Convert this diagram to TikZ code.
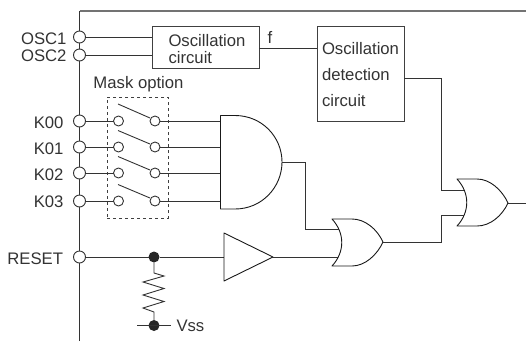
\documentclass[tikz,border=0pt]{standalone}
\usepackage{fontspec}
\setmainfont{Liberation Sans}
\begin{document}
\begin{tikzpicture}[
    x=1pt, y=-1pt,
    every node/.style={font=\fontsize{16.7}{16.7}\selectfont, text=black!80, inner sep=0pt, outer sep=0pt},
    wire/.style={draw, black!80, line width=0.9pt},
    heavy wire/.style={draw, black!55, line width=2pt},
    pin/.style={circle, draw=black!80, fill=white, line width=0.9pt, minimum size=12pt},
    contact/.style={circle, draw=black!80, fill=white, line width=0.9pt, minimum size=10pt},
    junction/.style={circle, fill=black!85, minimum size=11pt},
    block/.style={rectangle, draw=black!75, line width=0.9pt},
    mask box/.style={rectangle, draw=black!75, dashed, line width=0.9pt, minimum width=61pt, minimum height=121pt},
    gate/.style={draw, black!90, fill=white, line width=0.9pt, line join=round},
    ]
\useasboundingbox (0,0) rectangle (526,341);
% outer package edge
\coordinate (busTop) at (79.5,11);
\coordinate (busBot) at (79.5,341);
\coordinate (edgeEnd) at (526,11);
\draw[wire] (busBot) -- (busTop);
\draw[heavy wire] (busTop) -- (edgeEnd);
\node[mask box] (maskBox) at (137.5,157.5) {};
\node (maskLabel) at (138.5,84.5) {Mask option};
% pins
\node[pin] (osc1) at (79.5,37) {};
\node[pin] (osc2) at (79.5,55) {};
\node[pin] (k00) at (79.5,121) {};
\node[pin] (k01) at (79.5,147) {};
\node[pin] (k02) at (79.5,173) {};
\node[pin] (k03) at (79.5,201) {};
\node[pin] (reset) at (79.5,257) {};
\node[anchor=east] (osc1Label) at (66.5,39) {OSC1};
\node[anchor=east] (osc2Label) at (66.5,55.5) {OSC2};
\node[anchor=east] (k00Label) at (63.5,123) {K00};
\node[anchor=east] (k01Label) at (63.5,149) {K01};
\node[anchor=east] (k02Label) at (63.5,175) {K02};
\node[anchor=east] (k03Label) at (63.5,201.5) {K03};
\node[anchor=east] (resetLabel) at (63,259) {RESET};
% oscillation blocks
\node[block, minimum width=107pt, minimum height=42pt] (oscCircuit) at (205.5,47) {};
\node[anchor=west, align=left] (oscText) at (168.5,49) {Oscillation\\circuit};
\node[block, minimum width=87pt, minimum height=95pt] (oscDetect) at (360.5,73.5) {};
\node[anchor=west, align=left, font=\fontsize{16.7}{26}\selectfont] (detText) at (322,74.5) {Oscillation\\detection\\circuit};
\node (fLabel) at (270,37) {f};
\coordinate (oscIn1) at (152,37);
\coordinate (oscIn2) at (152,55);
\coordinate (oscOut) at (259,48);
\coordinate (detIn) at (317,48);
\coordinate (detOut) at (404,78);
\draw[wire] (osc1) -- (oscIn1);
\draw[wire] (osc2) -- (oscIn2);
\draw[wire] (oscOut) -- (detIn);
% mask option switches
\node[contact] (sw0a) at (118.5,121) {};
\node[contact] (sw0b) at (155,121) {};
\node[contact] (sw1a) at (118.5,147) {};
\node[contact] (sw1b) at (155,147) {};
\node[contact] (sw2a) at (118.5,173) {};
\node[contact] (sw2b) at (155,173) {};
\node[contact] (sw3a) at (118.5,201) {};
\node[contact] (sw3b) at (155,201) {};
\coordinate (lev0a) at (118,104);
\coordinate (lev0b) at (150,118);
\coordinate (lev1a) at (118,130.5);
\coordinate (lev1b) at (150,144);
\coordinate (lev2a) at (118,156.5);
\coordinate (lev2b) at (150,170);
\coordinate (lev3a) at (118,184.5);
\coordinate (lev3b) at (150,198);
\draw[wire] (lev0a) -- (lev0b);
\draw[wire] (lev1a) -- (lev1b);
\draw[wire] (lev2a) -- (lev2b);
\draw[wire] (lev3a) -- (lev3b);
\draw[wire] (k00) -- (sw0a);
\draw[wire] (k01) -- (sw1a);
\draw[wire] (k02) -- (sw2a);
\draw[wire] (k03) -- (sw3a);
% and gate
\coordinate (andIn0) at (220.5,121);
\coordinate (andIn1) at (220.5,147);
\coordinate (andIn2) at (220.5,173);
\coordinate (andIn3) at (220.5,201);
\coordinate (andOut) at (282,162);
\draw[wire] (sw0b) -- (andIn0);
\draw[wire] (sw1b) -- (andIn1);
\draw[wire] (sw2b) -- (andIn2);
\draw[wire] (sw3b) -- (andIn3);
\draw[gate] (220.5,115.5) -- (235,115.5) .. controls (262,115.5) and (282,137) .. (andOut)
    .. controls (282,187) and (262,209) .. (235,209) -- (220.5,209) -- cycle;
% reset path
\node[junction] (resetDot) at (154,257) {};
\coordinate (bufIn) at (224,257);
\coordinate (bufOut) at (273,257);
\coordinate (or1In1) at (341,229);
\coordinate (or1In2) at (341,257);
\coordinate (or1Out) at (383,242);
\draw[wire] (reset) -- (resetDot);
\draw[wire] (resetDot) -- (bufIn);
\draw[wire] (bufOut) -- (or1In2);
\draw[wire] (andOut) -| (305,229) -- (or1In1);
\draw[gate] (224,233) -- (bufOut) -- (224,281) -- cycle;
% or gates
\draw[gate] (332,219) -- (352,219) .. controls (365,219) and (377,229) .. (or1Out)
    .. controls (377,255) and (365,266) .. (352,266) -- (332,266)
    .. controls (345,252) and (345,233) .. (332,219) -- cycle;
\coordinate (or2In1) at (466,190);
\coordinate (or2In2) at (466,215);
\coordinate (or2Out) at (508,203);
\coordinate (outEnd) at (526,203);
\draw[wire] (detOut) -| (441,190) -- (or2In1);
\draw[wire] (or1Out) -| (441,215) -- (or2In2);
\draw[wire] (or2Out) -- (outEnd);
\draw[gate] (457,179) -- (477,179) .. controls (490,179) and (502,190) .. (or2Out)
    .. controls (502,216) and (490,226) .. (477,226) -- (457,226)
    .. controls (470,212) and (470,193) .. (457,179) -- cycle;
% pull-down
\node[junction] (vssDot) at (154,325.5) {};
\coordinate (vssLeft) at (137,325.5);
\coordinate (vssRight) at (171,325.5);
\node[anchor=west] (vssLabel) at (176.5,326) {Vss};
\draw[wire] (vssLeft) -- (vssRight);
\draw[wire, line join=miter] (resetDot) -- (154,273) -- (164,276) -- (143,282) -- (164,288.5) -- (143,295)
    -- (164,301.5) -- (143,308) -- (154,312) -- (vssDot);
\end{tikzpicture}
\end{document}
